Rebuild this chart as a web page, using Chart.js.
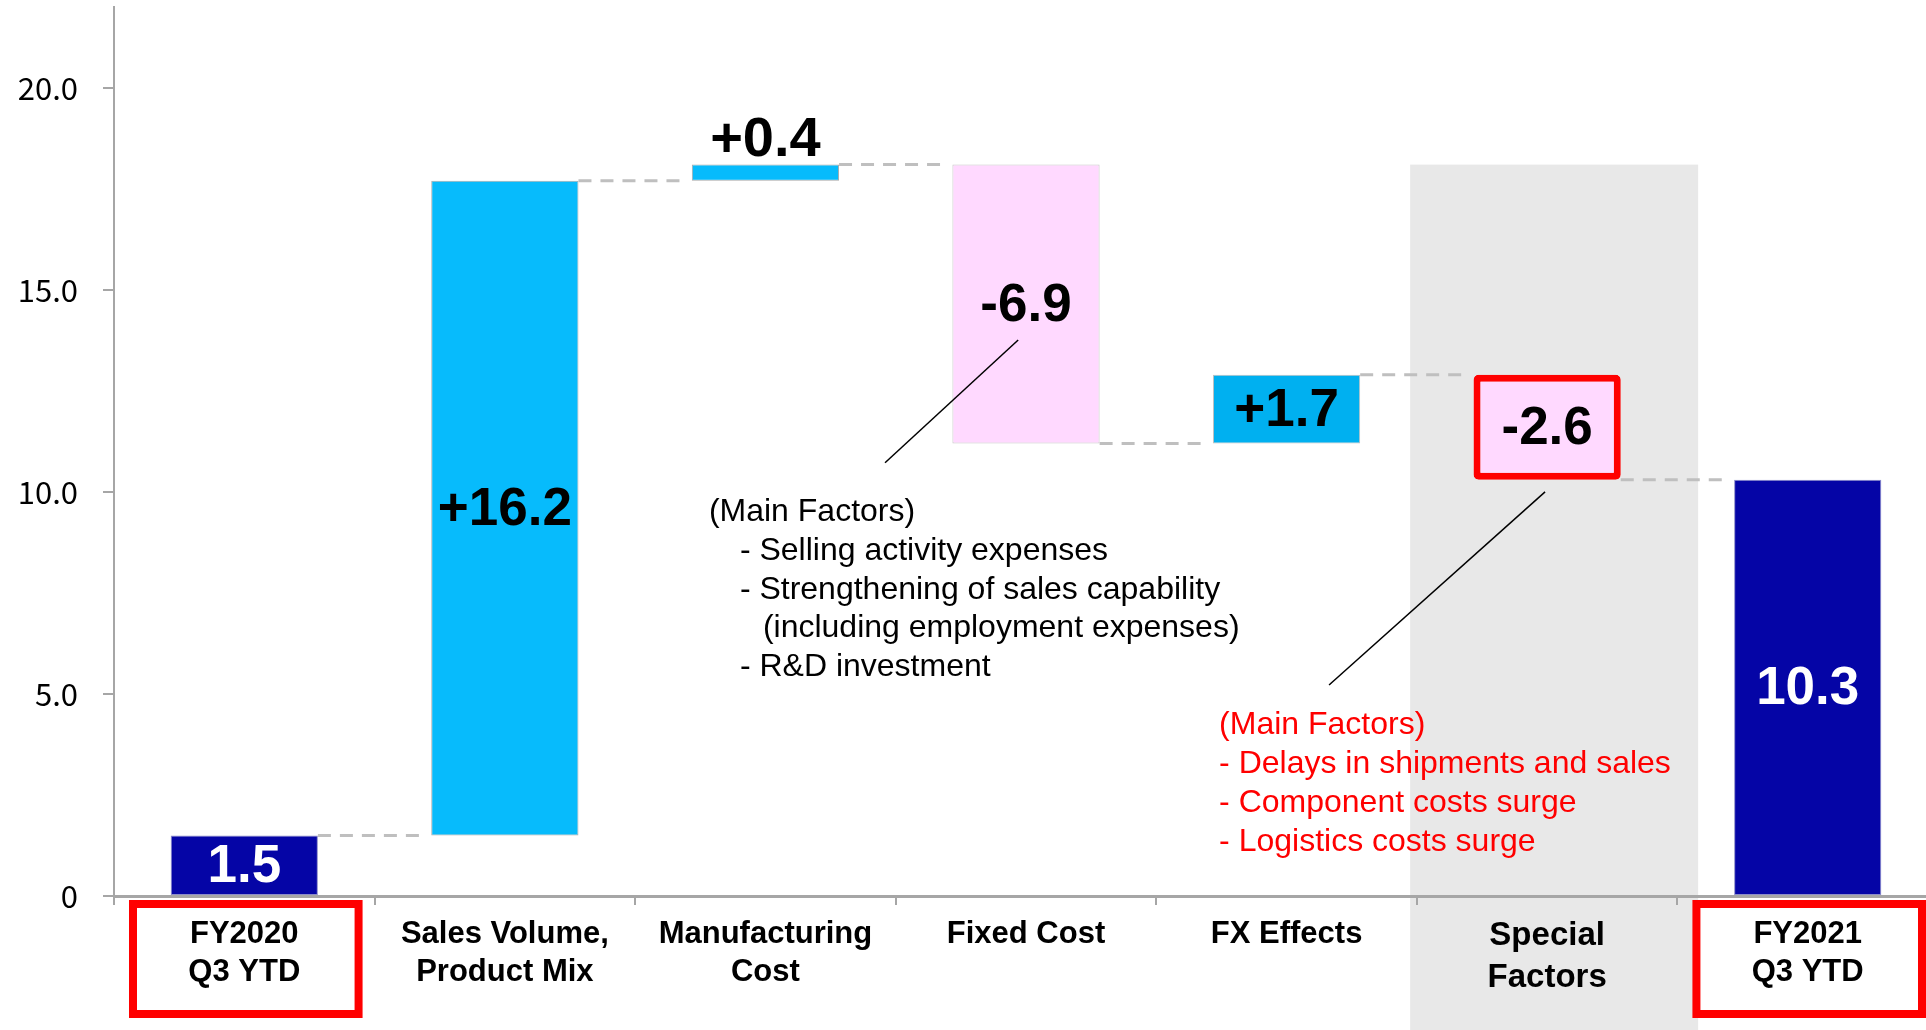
<!DOCTYPE html>
<html lang="en">
<head>
  <meta charset="UTF-8">
  <title>Operating Income Change</title>
  <script src="https://cdn.jsdelivr.net/npm/chart.js"></script>
  <style>
    html, body {
      margin: 0;
      padding: 0;
      background: #ffffff;
      overflow: hidden;
    }
    #bridge {
      position: absolute;
      left: 0;
      top: 0;
    }
  </style>
</head>
<body>
  <canvas id="bridge" width="1940" height="1030"></canvas>

  <script>
    // data
    const categories = [
      ['FY2020', 'Q3 YTD'],
      ['Sales Volume,', 'Product Mix'],
      ['Manufacturing', 'Cost'],
      'Fixed Cost',
      'FX Effects',
      ['Special', 'Factors'],
      ['FY2021', 'Q3 YTD']
    ];
    const changes = [1.5, 16.2, 0.4, -6.9, 1.7, -2.6, 10.3];
    const isTotal = [true, false, false, false, false, false, true];
    const yTickValues = [0, 5, 10, 15, 20];

    const fixedCostNote = [
      '(Main Factors)',
      '- Selling activity expenses',
      '- Strengthening of sales capability',
      '(including employment expenses)',
      '- R&D investment'
    ];
    const specialNote = [
      '(Main Factors)',
      '- Delays in shipments and sales',
      '- Component costs surge',
      '- Logistics costs surge'
    ];

    const barColors = ['#0505A6', '#07BBFC', '#07BBFC', '#FFD9FF', '#00B0F0', '#FFD9FF', '#0505A6'];
    const barBorders = ['#8C8CC8', '#A9A9A9', '#A9A9A9', '#C8C8C8', '#BFBFBF', '#FF0000', '#8C8CC8'];
    const barBorderWidths = [1, 1, 1, 1, 1, 7, 1];

    // floating ranges for the waterfall
    let running = 0;
    const ranges = changes.map((v, i) => {
      if (isTotal[i]) {
        running = v;
        return [0, v];
      }
      const r = [running, +(running + v).toFixed(1)];
      running = r[1];
      return r;
    });
    const valueText = changes.map((v, i) =>
      isTotal[i] ? v.toFixed(1) : (v > 0 ? '+' : '') + v.toFixed(1));
    const peak = Math.max(...ranges.flat());

    const SANS = '"Liberation Sans", Arial, sans-serif';

    const bandPlugin = {
      id: 'band',
      beforeDraw(chart) {
        const { ctx } = chart;
        const xs = chart.scales.x, ys = chart.scales.y;
        const cx = xs.getPixelForValue(5);
        ctx.save();
        ctx.fillStyle = '#E8E8E8';
        const top = ys.getPixelForValue(peak);
        ctx.fillRect(cx - 137, top, 288, chart.height - top);
        ctx.restore();
      }
    };

    const connectorPlugin = {
      id: 'connectors',
      beforeDatasetsDraw(chart) {
        const { ctx } = chart;
        const ys = chart.scales.y;
        const bars = chart.getDatasetMeta(0).data;
        ctx.save();
        ctx.strokeStyle = '#BFBFBF';
        ctx.lineWidth = 3;
        ctx.setLineDash([13, 9]);
        for (let i = 0; i < bars.length - 1; i++) {
          const y = ys.getPixelForValue(ranges[i][1]);
          const x1 = bars[i].x + bars[i].width / 2;
          const x2 = bars[i + 1].x - bars[i + 1].width / 2 - 8;
          ctx.beginPath();
          ctx.moveTo(x1, y);
          ctx.lineTo(x2, y);
          ctx.stroke();
        }
        ctx.restore();
      }
    };

    const valueLabelPlugin = {
      id: 'valueLabels',
      afterDatasetsDraw(chart) {
        const { ctx } = chart;
        const bars = chart.getDatasetMeta(0).data;
        ctx.save();
        ctx.textAlign = 'center';
        ctx.textBaseline = 'middle';
        bars.forEach((bar, i) => {
          const top = Math.min(bar.y, bar.base);
          const bottom = Math.max(bar.y, bar.base);
          let y = (top + bottom) / 2;
          let size = 53;
          if (bottom - top < 40) {
            // too thin, put it above
            size = 56;
            y = top - 26;
          }
          ctx.font = 'bold ' + size + 'px ' + SANS;
          ctx.fillStyle = isTotal[i] ? '#FFFFFF' : '#000000';
          ctx.fillText(valueText[i], bar.x, y + 2);
        });
        ctx.restore();
      }
    };

    const notePlugin = {
      id: 'notes',
      afterDraw(chart) {
        const { ctx } = chart;
        const xs = chart.scales.x, ys = chart.scales.y;
        const P = (c, v) => [xs.getPixelForValue(c), ys.getPixelForValue(v)];

        ctx.save();
        // leader lines
        ctx.strokeStyle = '#000000';
        ctx.lineWidth = 1.5;
        [[[2.97, 13.76], [2.459, 10.72]], [[4.992, 10.0], [4.163, 5.22]]].forEach(seg => {
          const a = P(seg[0][0], seg[0][1]);
          const b = P(seg[1][0], seg[1][1]);
          ctx.beginPath();
          ctx.moveTo(a[0], a[1]);
          ctx.lineTo(b[0], b[1]);
          ctx.stroke();
        });

        // notes
        ctx.font = '32px ' + SANS;
        ctx.textAlign = 'left';
        ctx.textBaseline = 'middle';
        ctx.fillStyle = '#000000';
        const n1 = P(1.783, 9.5);
        const indents = [0, 31, 31, 54, 31];
        fixedCostNote.forEach((line, i) => {
          ctx.fillText(line, n1[0] + indents[i], n1[1] + i * 38.8);
        });
        ctx.fillStyle = '#FF0000';
        const n2 = P(3.741, 4.23);
        specialNote.forEach((line, i) => {
          ctx.fillText(line, n2[0], n2[1] + i * 39);
        });

        // red boxes round the totals' labels
        ctx.strokeStyle = '#FF0000';
        ctx.lineWidth = 8;
        const catW = xs.getPixelForValue(1) - xs.getPixelForValue(0);
        isTotal.forEach((t, i) => {
          if (!t) return;
          const left = xs.getPixelForValue(i) - catW / 2;
          ctx.strokeRect(left + 19, xs.top + 8, catW - 35, 110);
        });
        ctx.restore();
      }
    };

    const ctx = document.getElementById('bridge').getContext('2d');
    new Chart(ctx, {
      type: 'bar',
      data: {
        labels: categories,
        datasets: [{
          data: ranges,
          backgroundColor: barColors,
          borderColor: barBorders,
          borderWidth: barBorderWidths,
          borderSkipped: false,
          borderRadius: barColors.map((c, i) => i === 5 ? 5 : 0),
          barPercentage: 0.565,
          categoryPercentage: 1.0
        }]
      },
      options: {
        responsive: false,
        animation: false,
        devicePixelRatio: 1,
        layout: { padding: { top: 7, right: 2, left: 0, bottom: 0 } },
        plugins: {
          legend: { display: false },
          tooltip: { enabled: false }
        },
        scales: {
          x: {
            offset: true,
            grid: {
              display: true,
              drawOnChartArea: false,
              drawTicks: true,
              tickLength: 9,
              color: '#A6A6A6',
              lineWidth: 2,
              offset: true
            },
            border: { display: true, color: '#A6A6A6', width: 3 },
            ticks: {
              color: '#000000',
              autoSkip: false,
              maxRotation: 0,
              padding: 10,
              font: (c) => c.index === 5
                ? { family: SANS, size: 33, weight: 'bold', lineHeight: 1.27 }
                : { family: SANS, size: 31, weight: 'bold', lineHeight: 1.23 }
            },
            afterFit(scale) { scale.height = 134; }
          },
          y: {
            min: 0,
            max: 22,
            afterBuildTicks(scale) {
              scale.ticks = yTickValues.map(v => ({ value: v }));
            },
            ticks: {
              color: '#000000',
              padding: 25,
              font: { family: '"Noto Sans CJK JP", "Noto Sans", sans-serif', size: 31 },
              callback: (v) => v === 0 ? '0' : Number(v).toFixed(1)
            },
            grid: {
              drawOnChartArea: false,
              drawTicks: true,
              tickLength: 11,
              color: '#A6A6A6',
              lineWidth: 2
            },
            border: { display: true, color: '#A6A6A6', width: 2 },
            afterFit(scale) {
              scale.width = 114;
              scale.paddingTop = 0;
              scale.paddingBottom = 0;
            }
          }
        }
      },
      plugins: [bandPlugin, connectorPlugin, valueLabelPlugin, notePlugin]
    });
  </script>
</body>
</html>
